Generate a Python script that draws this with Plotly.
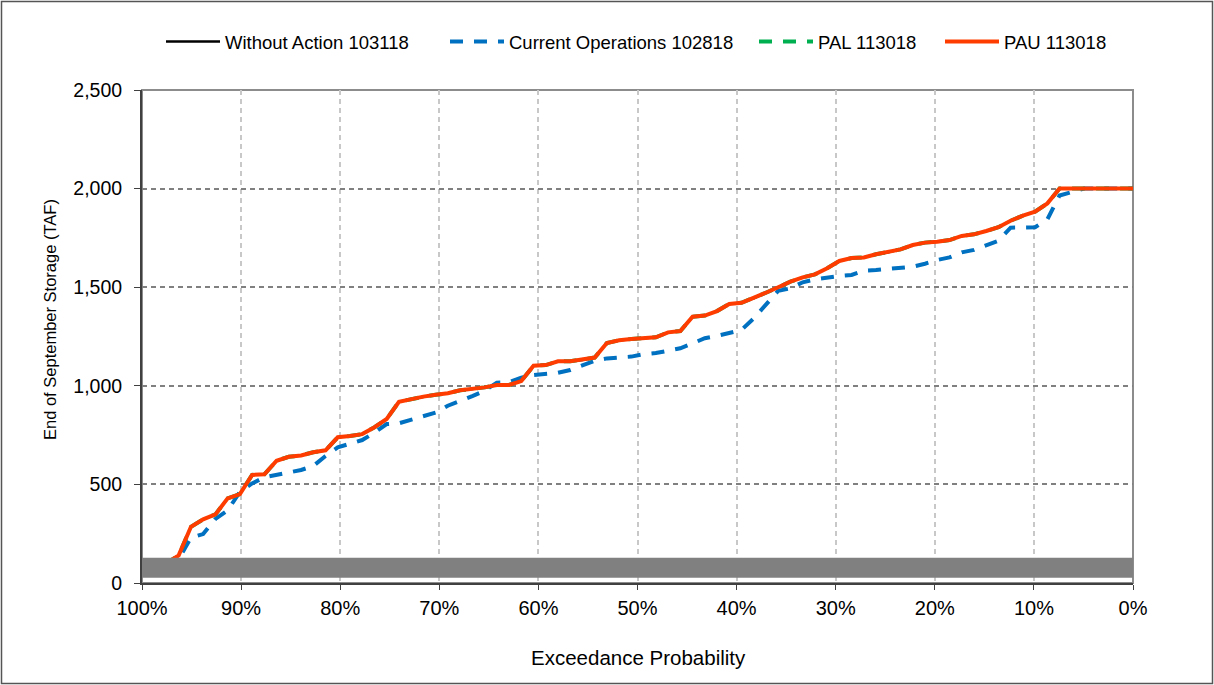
import plotly.graph_objects as go

# Exceedance probability (%) for the 82 ranked values
exceedance = [100.00, 98.77, 97.53, 96.30, 95.06, 93.83, 92.59, 91.36, 90.12, 88.89,
              87.65, 86.42, 85.19, 83.95, 82.72, 81.48, 80.25, 79.01, 77.78, 76.54,
              75.31, 74.07, 72.84, 71.60, 70.37, 69.14, 67.90, 66.67, 65.43, 64.20,
              62.96, 61.73, 60.49, 59.26, 58.02, 56.79, 55.56, 54.32, 53.09, 51.85,
              50.62, 49.38, 48.15, 46.91, 45.68, 44.44, 43.21, 41.98, 40.74, 39.51,
              38.27, 37.04, 35.80, 34.57, 33.33, 32.10, 30.86, 29.63, 28.40, 27.16,
              25.93, 24.69, 23.46, 22.22, 20.99, 19.75, 18.52, 17.28, 16.05, 14.81,
              13.58, 12.35, 11.11, 9.88, 8.64, 7.41, 6.17, 4.94, 3.70, 2.47,
              1.23, 0.00]

pau_113018 = [45, 70, 100, 140, 285, 323, 348, 429, 451, 548,
              551, 620, 640, 647, 663, 673, 739, 745, 755, 790,
              832, 919, 933, 945, 955, 962, 977, 984, 992, 1004,
              1004, 1024, 1102, 1105, 1124, 1124, 1131, 1143, 1217, 1231,
              1237, 1241, 1246, 1271, 1278, 1350, 1356, 1379, 1415, 1421,
              1444, 1472, 1500, 1528, 1550, 1565, 1596, 1633, 1648, 1651,
              1667, 1677, 1692, 1714, 1726, 1731, 1739, 1760, 1768, 1785,
              1804, 1837, 1863, 1883, 1925, 2000, 2000, 2000, 2000, 2000,
              2000, 2000]

# Without Action and PAL are hidden beneath PAU in the chart
without_action_103118 = list(pau_113018)
pal_113018 = list(pau_113018)

current_ops_102818 = [40, 60, 90, 120, 230, 248, 325, 368, 462, 505,
                      536, 548, 559, 573, 593, 644, 688, 708, 725, 762,
                      806, 810, 827, 843, 864, 899, 921, 948, 975, 1016,
                      1018, 1041, 1055, 1060, 1066, 1080, 1105, 1127, 1139, 1143,
                      1148, 1160, 1166, 1178, 1190, 1215, 1241, 1253, 1268, 1283,
                      1342, 1410, 1482, 1494, 1525, 1540, 1550, 1557, 1562, 1584,
                      1587, 1592, 1597, 1604, 1619, 1638, 1651, 1677, 1689, 1714,
                      1736, 1802, 1804, 1804, 1844, 1965, 1983, 2000, 2000, 2000,
                      2000, 2000]

band_x = [100, 0]
band_y = [77, 77]

x_ticks = [100, 90, 80, 70, 60, 50, 40, 30, 20, 10, 0]
x_tick_labels = ["100%", "90%", "80%", "70%", "60%", "50%", "40%", "30%", "20%", "10%", "0%"]
y_ticks = [0, 500, 1000, 1500, 2000, 2500]
y_tick_labels = ["0", "500", "1,000", "1,500", "2,000", "2,500"]

FONT = "Liberation Sans, Arial, sans-serif"

W, H = 1214, 685
L, R, T, B = 142, 81, 90, 102
pw, ph = W - L - R, H - T - B


def px_x(p):
    return (p - L) / pw


def px_y(p):
    return (H - B - p) / ph


fig = go.Figure()
fig.add_trace(go.Scatter(x=exceedance, y=without_action_103118, mode="lines",
                         name="Without Action 103118", legend="legend",
                         line=dict(color="#000000", width=2.5)))
fig.add_trace(go.Scatter(x=exceedance, y=current_ops_102818, mode="lines",
                         name="Current Operations 102818", legend="legend2",
                         line=dict(color="#0070C0", width=4, dash="13px,11px")))
fig.add_trace(go.Scatter(x=exceedance, y=pal_113018, mode="lines",
                         name="PAL 113018", legend="legend3",
                         line=dict(color="#00B050", width=4, dash="13px,11px")))
fig.add_trace(go.Scatter(x=exceedance, y=pau_113018, mode="lines",
                         name="PAU 113018", legend="legend4",
                         line=dict(color="#FF3C00", width=4)))
fig.add_trace(go.Scatter(x=band_x, y=band_y, mode="lines", showlegend=False,
                         hoverinfo="skip",
                         line=dict(color="#808080", width=20)))


def legend_at(px):
    return dict(orientation="h", x=px_x(px), xanchor="left",
                y=px_y(42), yanchor="middle",
                font=dict(size=18.5, family=FONT, color="#000000"),
                itemwidth=54, bgcolor="rgba(0,0,0,0)")


fig.update_layout(
    width=W, height=H,
    margin=dict(l=L, r=R, t=T, b=B),
    paper_bgcolor="white", plot_bgcolor="white",
    font=dict(family=FONT, color="#000000", size=19),
    showlegend=True,
    legend=legend_at(161),
    legend2=legend_at(445),
    legend3=legend_at(754),
    legend4=legend_at(940),
    xaxis=dict(range=[100, 0], tickmode="array", tickvals=x_ticks,
               ticktext=x_tick_labels, showgrid=True, gridcolor="#C8C8C8",
               griddash="5px,4px", gridwidth=1.5, zeroline=False,
               showline=True, linecolor="#404040", linewidth=2,
               ticks="outside", ticklen=5, tickcolor="#404040",
               ticklabelstandoff=1, tickfont=dict(size=20)),
    yaxis=dict(range=[0, 2500], tickmode="array", tickvals=y_ticks,
               ticktext=y_tick_labels, showgrid=True, gridcolor="#808080",
               griddash="5px,4px", gridwidth=1.5, zeroline=False,
               showline=True, linecolor="#404040", linewidth=2,
               ticks="outside", ticklen=6, tickcolor="#404040",
               ticklabelstandoff=8, tickfont=dict(size=19.5)),
    shapes=[
        dict(type="rect", xref="paper", yref="paper", x0=0, x1=1, y0=0, y1=1,
             line=dict(color="#8C8C8C", width=2), layer="below"),
        dict(type="rect", xref="paper", yref="paper",
             x0=px_x(1.5), x1=px_x(W - 1.5), y0=px_y(H - 1.5), y1=px_y(1.5),
             line=dict(color="#555555", width=1.5), layer="below"),
    ],
    annotations=[
        dict(text="End of September Storage (TAF)", textangle=-90,
             xref="paper", yref="paper", x=px_x(50), y=px_y(320),
             showarrow=False, font=dict(size=16.5, family=FONT),
             xanchor="center", yanchor="middle"),
        dict(text="Exceedance Probability",
             xref="paper", yref="paper", x=px_x(638), y=px_y(657),
             showarrow=False, font=dict(size=20.5, family=FONT),
             xanchor="center", yanchor="middle"),
    ],
)

fig.write_html("out.html",
               config={"displayModeBar": False},
               post_script="document.body.style.margin='0';document.body.style.overflow='hidden';")
